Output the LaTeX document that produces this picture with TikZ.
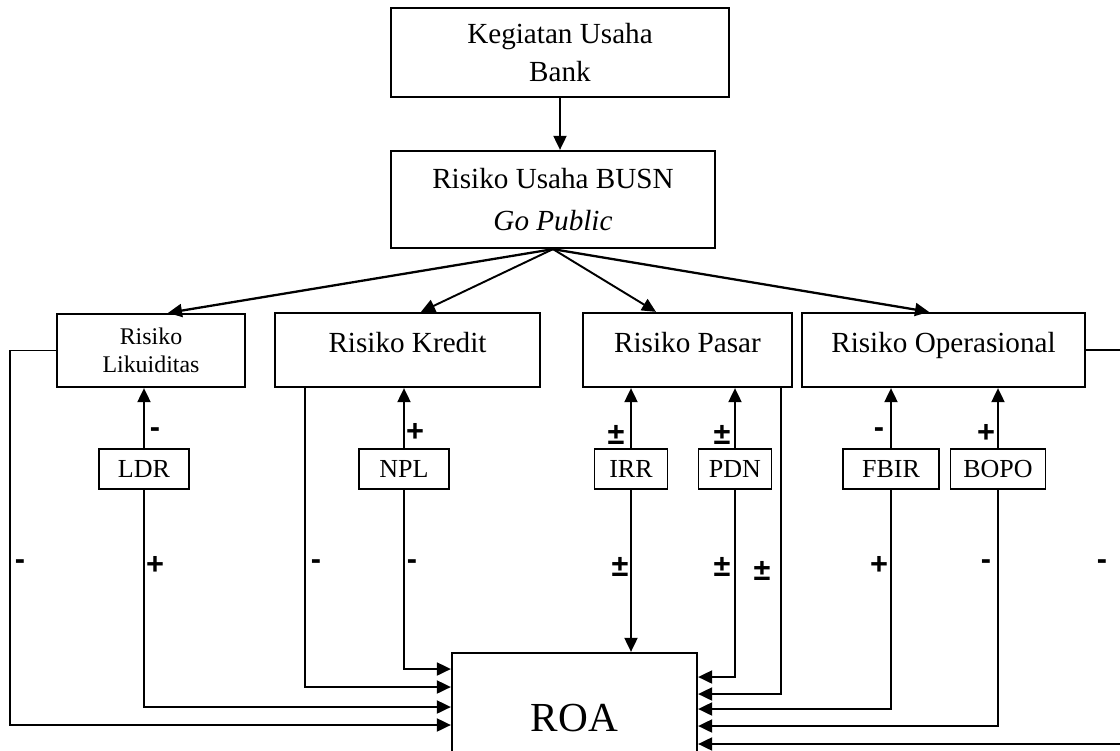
\documentclass[tikz,border=0pt]{standalone}
\usepackage{fontspec}
\setmainfont{Liberation Serif}
\newfontfamily\signfont{Liberation Sans}
\usetikzlibrary{arrows.meta}
\begin{document}
\begin{tikzpicture}[x=0.02cm,y=-0.02cm,line width=1.1pt,>={Triangle[length=0.28cm,width=0.26cm]}]
\tikzstyle{box}=[draw,rectangle,inner sep=0pt,line width=1.3pt,font=\fontsize{16.6}{21.5}\selectfont]
\tikzstyle{risk}=[box,minimum height=1.48cm,text height=12pt,text depth=9pt]
\tikzstyle{ratio}=[draw,rectangle,inner sep=0pt,minimum height=0.8cm,font=\fontsize{14.8}{17}\selectfont]
\tikzstyle{sign}=[inner sep=0pt,font=\signfont\bfseries\fontsize{17.5}{17.5}\selectfont]
\useasboundingbox (0,0) rectangle (1120,751);
\clip (0,0) rectangle (1120,751);
% top
\node[box,minimum width=6.76cm,minimum height=1.78cm,align=center] (keg) at (560,52.5) {Kegiatan Usaha\\Bank};
\node[box,minimum width=6.48cm,minimum height=1.94cm,align=center,font=\fontsize{16.6}{24.4}\selectfont] (busn) at (553,199.5) {Risiko Usaha BUSN\\\textit{Go Public}};
% risks
\node[box,minimum width=3.76cm,minimum height=1.46cm,align=center,font=\fontsize{13.6}{15.9}\selectfont] (lik) at (151,350.5) {Risiko\\Likuiditas};
\node[risk,minimum width=5.3cm] (kre) at (407.5,350) {Risiko Kredit};
\node[risk,minimum width=4.18cm] (pas) at (687.5,350) {Risiko Pasar};
\node[risk,minimum width=5.66cm] (ope) at (943.5,350) {Risiko Operasional};
% ratios
\node[ratio,minimum width=1.8cm] (ldr) at (144,469) {LDR};
\node[ratio,minimum width=1.8cm] (npl) at (404,469) {NPL};
\node[ratio,minimum width=1.46cm] (irr) at (631,469) {IRR};
\node[ratio,minimum width=1.46cm] (pdn) at (735,469) {PDN};
\node[ratio,minimum width=1.92cm] (fbir) at (891,469) {FBIR};
\node[ratio,minimum width=1.9cm] (bopo) at (998,469) {BOPO};
\node[box,minimum width=4.9cm,minimum height=2.6cm,font=\fontsize{23.5}{28}\selectfont] (roa) at (574.5,718) {ROA};
% arrows
\draw[->] (keg.south) -- (keg.south |- busn.north);
\draw[->,line width=1.3pt] (busn.south) -- ([xshift=0.34cm]lik.north);
\draw[->] (busn.south) -- ([xshift=0.27cm]kre.north);
\draw[->] (busn.south) -- ([xshift=-0.63cm]pas.north);
\draw[->,line width=1.3pt] (busn.south) -- ([xshift=-0.29cm]ope.north);
\foreach \r/\k in {ldr/lik,npl/kre,irr/pas,pdn/pas,fbir/ope,bopo/ope}
 \draw[->] (\r.north) -- (\r.north |- \k.south);
\draw[->] (irr.south) -- (irr.south |- roa.north);
\draw[->] (npl.south) |- ([yshift=0.98cm]roa.west);
\draw[->] ([xshift=-2.05cm]kre.south) |- ([yshift=0.62cm]roa.west);
\draw[->] (ldr.south) |- ([yshift=0.22cm]roa.west);
\draw[->] (lik.west) -- ++(-46,0) |- ([yshift=-0.14cm]roa.west);
\draw[->] (pdn.south) |- ([yshift=0.82cm]roa.east);
\draw[->] ([xshift=1.87cm]pas.south) |- ([yshift=0.48cm]roa.east);
\draw[->] (fbir.south) |- ([yshift=0.18cm]roa.east);
\draw[->] (bopo.south) |- ([yshift=-0.16cm]roa.east);
\draw[->] (ope.east) -- ++(40,0) |- ([yshift=-0.52cm]roa.east);
% signs
\foreach \t/\x/\y [count=\i] in {-/155/433,+/415/432,±/616/435,±/722/435,-/879/433,+/986/433,
 -/20/565,+/155/565,-/316/565,-/412/565,±/620/567,±/722/567,±/762/571,+/879/565,-/986/565,-/1102/565}
 \node[sign] (sg\i) at (\x,\y) {\t};
\end{tikzpicture}
\end{document}
